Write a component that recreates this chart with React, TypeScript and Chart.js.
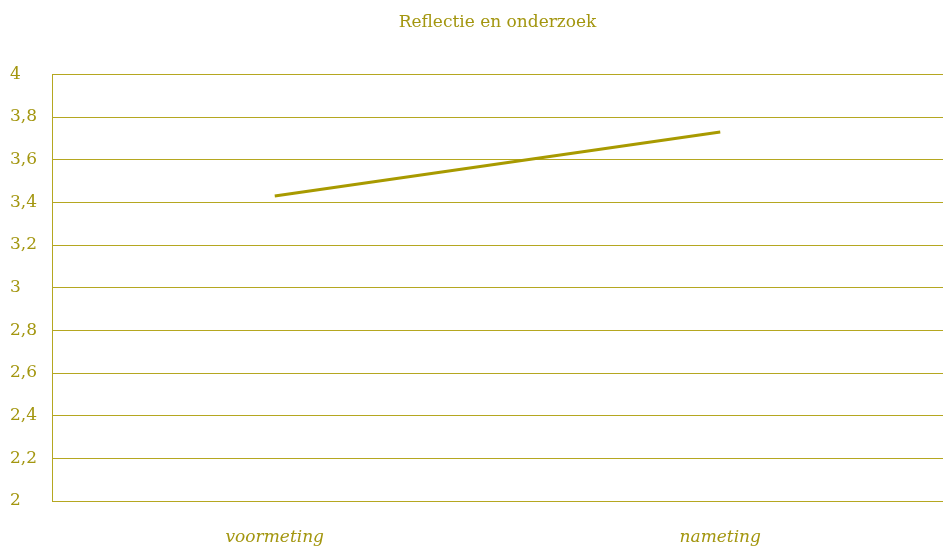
import React, { useEffect, useRef } from "react";
import { Chart, registerables } from "chart.js";
Chart.register(...registerables);

const categories = ["voormeting", "nameting"];
const values = [3.43, 3.73];
const titleText = "Reflectie en onderzoek";

const olive = "#a3960f";
const grid = "#b5a720";

export default function App() {
  const ref = useRef<HTMLCanvasElement>(null);
  useEffect(() => {
    document.body.style.margin = "0";
    const chart = new Chart(ref.current!, {
      type: "line",
      data: {
        labels: categories,
        datasets: [
          {
            data: values,
            borderColor: "#a89a00",
            borderWidth: 3,
            pointRadius: 0,
            tension: 0,
          },
        ],
      },
      options: {
        responsive: false,
        animation: false,
        layout: { padding: { left: 10, right: 0, top: 0, bottom: 0 } },
        plugins: {
          legend: { display: false },
          tooltip: { enabled: false },
          title: {
            display: true,
            fullSize: false,
            text: titleText,
            color: olive,
            font: { family: "DejaVu Serif", size: 17, weight: "normal" },
            padding: { top: 12, bottom: 42 },
          },
        },
        scales: {
          x: {
            offset: true,
            grid: { display: false, drawTicks: false },
            border: { display: true, color: grid, width: 1 },
            ticks: {
              color: olive,
              font: { family: "DejaVu Serif", size: 17, style: "italic" },
              padding: 26,
            },
            afterFit: (s: any) => {
              s.height = 47;
            },
          },
          y: {
            min: 2,
            max: 4,
            grid: { color: grid, lineWidth: 1, drawTicks: false },
            border: { display: true, color: grid, width: 1 },
            ticks: {
              stepSize: 0.2,
              color: olive,
              font: { family: "DejaVu Serif", size: 17 },
              padding: 6,
              crossAlign: "far" as any,
              callback: (v: any) => {
                const n = Math.round(Number(v) * 10) / 10;
                return String(n).replace(".", ",");
              },
            },
            afterFit: (s: any) => {
              s.width = 42;
            },
          },
        },
      },
    });
    return () => chart.destroy();
  }, []);
  return <canvas ref={ref} width={943} height={548} style={{ display: "block" }} />;
}
